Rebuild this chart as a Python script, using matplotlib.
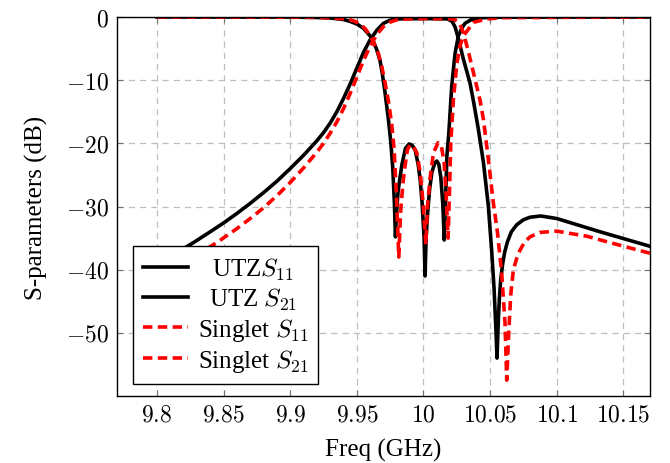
import matplotlib
matplotlib.use('agg')
import matplotlib.pyplot as plt
from matplotlib.transforms import Affine2D

plt.rcParams['font.family'] = ['Liberation Serif', 'DejaVu Serif']
plt.rcParams['mathtext.fontset'] = 'cm'
plt.rcParams['font.size'] = 17

# values (GHz, dB)
utz_s11_f = [9.80, 9.90, 9.92, 9.93, 9.94, 9.945, 9.95, 9.955, 9.9575, 9.96, 9.9625,
             9.965, 9.9675, 9.969, 9.971, 9.9737, 9.9755, 9.977, 9.9782, 9.979, 9.9798,
             9.981, 9.9838, 9.9865, 9.9892, 9.9915, 9.9938, 9.996, 9.9975, 9.999, 10.0005,
             10.0012, 10.002, 10.003, 10.0045, 10.0063, 10.0085, 10.010, 10.0115, 10.013,
             10.0145, 10.0156, 10.0166, 10.0176, 10.019, 10.0212, 10.0237, 10.0262, 10.029,
             10.0312, 10.036, 10.045, 10.06, 10.17]
utz_s11_db = [0.0, -0.02, -0.08, -0.15, -0.4, -0.7, -1.1, -1.8, -2.4, -3.0, -3.9,
              -5.2, -7.0, -8.8, -11.7, -16.2, -19.8, -24.0, -29.5, -34.8, -31.0,
              -27.5, -23.4, -20.8, -20.1, -20.3, -21.1, -23.3, -25.7, -29.5, -35.0,
              -41.0, -35.0, -31.5, -27.5, -24.6, -23.1, -22.8, -23.3, -25.3,
              -29.5, -35.3, -29.0, -22.0, -18.5, -11.0, -5.8, -3.0, -1.7,
              -1.0, -0.4, -0.1, -0.03, 0.0]

utz_s21_f = [9.80, 9.8275, 9.84, 9.85, 9.86, 9.87, 9.88, 9.89, 9.90, 9.91, 9.92, 9.925,
             9.93, 9.935, 9.94, 9.945, 9.95, 9.955, 9.96, 9.965, 9.97, 9.975, 9.98, 10.0,
             10.018, 10.0215, 10.0238, 10.0262, 10.03, 10.035, 10.0375, 10.041, 10.045,
             10.0487, 10.0512, 10.053, 10.0545, 10.0552, 10.0562, 10.057, 10.058, 10.0595,
             10.061, 10.063, 10.066, 10.07, 10.075, 10.08, 10.088, 10.10, 10.1325, 10.17]
utz_s21_db = [-39.2, -35.7, -34.0, -32.6, -31.1, -29.5, -27.8, -26.0, -24.0, -21.9, -19.6, -18.3,
              -16.8, -15.0, -12.9, -10.6, -8.1, -5.6, -3.6, -2.1, -1.0, -0.5, -0.3, -0.25,
              -0.3, -0.7, -1.6, -3.4, -6.7, -10.5, -13.3, -17.5, -23.0,
              -29.9, -37.0, -43.0, -50.0, -54.0, -48.0, -44.5, -41.5, -39.0,
              -37.2, -35.6, -34.0, -32.9, -32.1, -31.7, -31.5, -31.9, -34.0, -36.3]

sing_s11_f = [9.80, 9.92, 9.9425, 9.9475, 9.9525, 9.9565, 9.96, 9.963, 9.9662, 9.9685,
              9.971, 9.9737, 9.9762, 9.978, 9.9798, 9.9815, 9.9828, 9.9845, 9.9862, 9.988,
              9.990, 9.9925, 9.995, 9.9975, 10.0, 10.0018, 10.003, 10.005, 10.0075, 10.011,
              10.0135, 10.0155, 10.017, 10.0185, 10.0195, 10.0205, 10.0225, 10.025, 10.0275,
              10.030, 10.0375, 10.0475, 10.06, 10.17]
sing_s11_db = [0.0, -0.05, -0.3, -0.6, -1.1, -1.9, -3.0, -4.2, -5.8, -7.6,
               -10.2, -13.3, -17.0, -21.0, -28.5, -38.0, -31.0, -26.5, -23.5, -21.0,
               -20.2, -20.5, -21.5, -24.6, -30.0, -36.0, -30.0, -25.5, -21.5, -19.9,
               -20.5, -23.0, -28.0, -35.0, -28.0, -20.0, -13.0, -7.5, -4.5,
               -3.0, -0.85, -0.3, -0.1, 0.0]

sing_s21_f = [9.80, 9.845, 9.86, 9.87, 9.88, 9.89, 9.90, 9.91, 9.92, 9.925, 9.93, 9.935,
              9.94, 9.945, 9.95, 9.955, 9.96, 9.965, 9.97, 9.975, 9.98, 9.9875, 10.0,
              10.022, 10.025, 10.0275, 10.03, 10.0335, 10.0375, 10.0425, 10.045, 10.0487,
              10.0525, 10.0555, 10.0587, 10.0612, 10.0625, 10.064, 10.0655, 10.0675, 10.07,
              10.0725, 10.076, 10.08, 10.0875, 10.10, 10.1225, 10.145, 10.17]
sing_s21_db = [-41.5, -35.7, -33.5, -31.9, -30.2, -28.3, -26.2, -23.9, -21.4, -20.0, -18.4, -16.6,
               -14.5, -12.1, -9.5, -6.9, -4.6, -2.8, -1.5, -0.8, -0.45, -0.3, -0.25,
               -0.3, -0.6, -1.2, -2.5, -5.3, -8.8, -13.2, -16.2, -22.5,
               -29.5, -34.0, -40.5, -48.4, -57.5, -50.0, -44.0, -40.0, -38.2,
               -36.9, -35.6, -34.8, -34.1, -33.9, -34.7, -36.0, -37.4]

xticks = [9.8, 9.85, 9.9, 9.95, 10.0, 10.05, 10.1, 10.15]
xticklabels = ['9.8', '9.85', '9.9', '9.95', '10', '10.05', '10.1', '10.15']
yticks = [0, -10, -20, -30, -40, -50]

fig = plt.figure(figsize=(6.7, 4.64), dpi=100)
ax = fig.add_axes([0.1746, 0.1444, 0.7955, 0.8168])

lw = 2.6
ax.plot(utz_s11_f, utz_s11_db, color='black', lw=lw, label=r'UTZ$S_{11}$')
ax.plot(utz_s21_f, utz_s21_db, color='black', lw=lw, label=r'UTZ $S_{21}$')
ax.plot(sing_s11_f, sing_s11_db, color='red', lw=lw, dashes=(2.6, 1.5), label=r'Singlet $S_{11}$')
ax.plot(sing_s21_f, sing_s21_db, color='red', lw=lw, dashes=(2.6, 1.5), label=r'Singlet $S_{21}$')

ax.set_xlim(9.77, 10.17)
ax.set_ylim(-60, 0)
ax.set_xticks(xticks)
ax.set_xticklabels(['$' + s + '$' for s in xticklabels])
ax.set_yticks(yticks)
ax.set_yticklabels(['$' + str(v) + '$' for v in yticks])
ax.tick_params(direction='in', length=4, width=0.8, color='0.45',
               top=True, right=True, labelsize=17, pad=6)
ax.grid(True, color='0.75', lw=0.9, dashes=(5, 4))
ax.set_axisbelow(True)
for s in ax.spines.values():
    s.set_linewidth(1.0)

ax.set_xlabel('Freq (GHz)', fontsize=18, labelpad=9)
ax.set_ylabel('S-parameters (dB)', fontsize=18, labelpad=13)

leg = ax.legend(loc='lower left', bbox_to_anchor=(0.030, 0.032), borderaxespad=0,
                fontsize=18, fancybox=False, framealpha=1, edgecolor='black',
                handlelength=1.8, handletextpad=0.4, labelspacing=0.15, borderpad=0.4)
leg.get_frame().set_linewidth(1.0)

# center the legend texts like pgfplots does
fig.canvas.draw()
texts = leg.get_texts()
widths = [t.get_window_extent().width for t in texts]
wmax = max(widths)
for t, w in zip(texts, widths):
    t.set_transform(t.get_transform() + Affine2D().translate((wmax - w) / 2, 0))

fig.savefig('out.png', dpi=100)
